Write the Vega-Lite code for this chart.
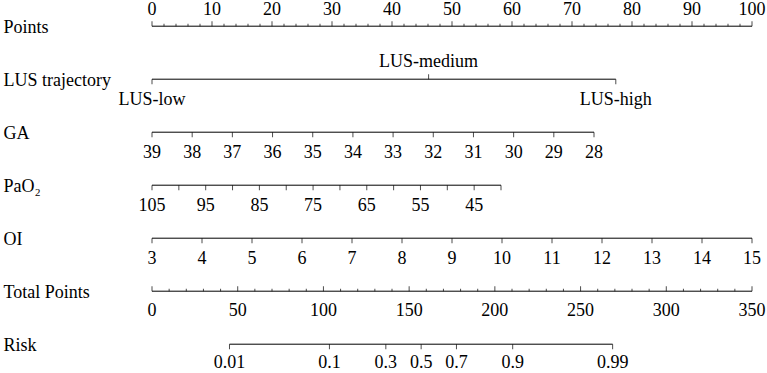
{
  "$schema": "https://vega.github.io/schema/vega-lite/v6.json",
  "background": "white",
  "padding": {"left": 3, "top": 0, "right": 0, "bottom": 0},
  "bounds": "flush",
  "spacing": 0,
  "config": {
    "view": {"stroke": null},
    "text": {"font": "Liberation Serif", "fontSize": 18, "color": "black"},
    "tick": {"color": "black", "thickness": 1},
    "rule": {"color": "black", "strokeWidth": 1},
    "axisY": {"title": null, "domain": false, "ticks": false, "tickSize": 0, "grid": false, "labelAlign": "left", "labelPadding": 149, "labelBaseline": "alphabetic", "labelOffset": 6, "labelFont": "Liberation Serif", "labelFontSize": 18, "labelColor": "black", "labelLimit": 0}
  },
  "datasets": {
    "points": [
      {"row":"Points","v":0,"kind":"major","label":"0"},{"row":"Points","v":2,"kind":"minor"},{"row":"Points","v":4,"kind":"minor"},{"row":"Points","v":6,"kind":"minor"},{"row":"Points","v":8,"kind":"minor"},
      {"row":"Points","v":10,"kind":"major","label":"10"},{"row":"Points","v":12,"kind":"minor"},{"row":"Points","v":14,"kind":"minor"},{"row":"Points","v":16,"kind":"minor"},{"row":"Points","v":18,"kind":"minor"},
      {"row":"Points","v":20,"kind":"major","label":"20"},{"row":"Points","v":22,"kind":"minor"},{"row":"Points","v":24,"kind":"minor"},{"row":"Points","v":26,"kind":"minor"},{"row":"Points","v":28,"kind":"minor"},
      {"row":"Points","v":30,"kind":"major","label":"30"},{"row":"Points","v":32,"kind":"minor"},{"row":"Points","v":34,"kind":"minor"},{"row":"Points","v":36,"kind":"minor"},{"row":"Points","v":38,"kind":"minor"},
      {"row":"Points","v":40,"kind":"major","label":"40"},{"row":"Points","v":42,"kind":"minor"},{"row":"Points","v":44,"kind":"minor"},{"row":"Points","v":46,"kind":"minor"},{"row":"Points","v":48,"kind":"minor"},
      {"row":"Points","v":50,"kind":"major","label":"50"},{"row":"Points","v":52,"kind":"minor"},{"row":"Points","v":54,"kind":"minor"},{"row":"Points","v":56,"kind":"minor"},{"row":"Points","v":58,"kind":"minor"},
      {"row":"Points","v":60,"kind":"major","label":"60"},{"row":"Points","v":62,"kind":"minor"},{"row":"Points","v":64,"kind":"minor"},{"row":"Points","v":66,"kind":"minor"},{"row":"Points","v":68,"kind":"minor"},
      {"row":"Points","v":70,"kind":"major","label":"70"},{"row":"Points","v":72,"kind":"minor"},{"row":"Points","v":74,"kind":"minor"},{"row":"Points","v":76,"kind":"minor"},{"row":"Points","v":78,"kind":"minor"},
      {"row":"Points","v":80,"kind":"major","label":"80"},{"row":"Points","v":82,"kind":"minor"},{"row":"Points","v":84,"kind":"minor"},{"row":"Points","v":86,"kind":"minor"},{"row":"Points","v":88,"kind":"minor"},
      {"row":"Points","v":90,"kind":"major","label":"90"},{"row":"Points","v":92,"kind":"minor"},{"row":"Points","v":94,"kind":"minor"},{"row":"Points","v":96,"kind":"minor"},{"row":"Points","v":98,"kind":"minor"},
      {"row":"Points","v":100,"kind":"major","label":"100"}
    ],
    "lus": [
      {"row":"LUS trajectory","v":0,"side":"below","label":"LUS-low"},
      {"row":"LUS trajectory","v":46.1,"side":"above","label":"LUS-medium"},
      {"row":"LUS trajectory","v":77.3,"side":"below","label":"LUS-high"}
    ],
    "ga": [
      {"row":"GA","v":39,"label":"39"},{"row":"GA","v":38,"label":"38"},{"row":"GA","v":37,"label":"37"},{"row":"GA","v":36,"label":"36"},
      {"row":"GA","v":35,"label":"35"},{"row":"GA","v":34,"label":"34"},{"row":"GA","v":33,"label":"33"},{"row":"GA","v":32,"label":"32"},
      {"row":"GA","v":31,"label":"31"},{"row":"GA","v":30,"label":"30"},{"row":"GA","v":29,"label":"29"},{"row":"GA","v":28,"label":"28"}
    ],
    "pao2": [
      {"row":"PaO₂","v":105,"label":"105"},{"row":"PaO₂","v":100},{"row":"PaO₂","v":95,"label":"95"},{"row":"PaO₂","v":90},
      {"row":"PaO₂","v":85,"label":"85"},{"row":"PaO₂","v":80},{"row":"PaO₂","v":75,"label":"75"},{"row":"PaO₂","v":70},
      {"row":"PaO₂","v":65,"label":"65"},{"row":"PaO₂","v":60},{"row":"PaO₂","v":55,"label":"55"},{"row":"PaO₂","v":50},
      {"row":"PaO₂","v":45,"label":"45"},{"row":"PaO₂","v":40}
    ],
    "oi": [
      {"row":"OI","v":3,"label":"3"},{"row":"OI","v":4,"label":"4"},{"row":"OI","v":5,"label":"5"},{"row":"OI","v":6,"label":"6"},
      {"row":"OI","v":7,"label":"7"},{"row":"OI","v":8,"label":"8"},{"row":"OI","v":9,"label":"9"},{"row":"OI","v":10,"label":"10"},
      {"row":"OI","v":11,"label":"11"},{"row":"OI","v":12,"label":"12"},{"row":"OI","v":13,"label":"13"},{"row":"OI","v":14,"label":"14"},
      {"row":"OI","v":15,"label":"15"}
    ],
    "total": [
      {"row":"Total Points","v":0,"kind":"major","label":"0"},{"row":"Total Points","v":10,"kind":"minor"},{"row":"Total Points","v":20,"kind":"minor"},{"row":"Total Points","v":30,"kind":"minor"},{"row":"Total Points","v":40,"kind":"minor"},
      {"row":"Total Points","v":50,"kind":"major","label":"50"},{"row":"Total Points","v":60,"kind":"minor"},{"row":"Total Points","v":70,"kind":"minor"},{"row":"Total Points","v":80,"kind":"minor"},{"row":"Total Points","v":90,"kind":"minor"},
      {"row":"Total Points","v":100,"kind":"major","label":"100"},{"row":"Total Points","v":110,"kind":"minor"},{"row":"Total Points","v":120,"kind":"minor"},{"row":"Total Points","v":130,"kind":"minor"},{"row":"Total Points","v":140,"kind":"minor"},
      {"row":"Total Points","v":150,"kind":"major","label":"150"},{"row":"Total Points","v":160,"kind":"minor"},{"row":"Total Points","v":170,"kind":"minor"},{"row":"Total Points","v":180,"kind":"minor"},{"row":"Total Points","v":190,"kind":"minor"},
      {"row":"Total Points","v":200,"kind":"major","label":"200"},{"row":"Total Points","v":210,"kind":"minor"},{"row":"Total Points","v":220,"kind":"minor"},{"row":"Total Points","v":230,"kind":"minor"},{"row":"Total Points","v":240,"kind":"minor"},
      {"row":"Total Points","v":250,"kind":"major","label":"250"},{"row":"Total Points","v":260,"kind":"minor"},{"row":"Total Points","v":270,"kind":"minor"},{"row":"Total Points","v":280,"kind":"minor"},{"row":"Total Points","v":290,"kind":"minor"},
      {"row":"Total Points","v":300,"kind":"major","label":"300"},{"row":"Total Points","v":310,"kind":"minor"},{"row":"Total Points","v":320,"kind":"minor"},{"row":"Total Points","v":330,"kind":"minor"},{"row":"Total Points","v":340,"kind":"minor"},
      {"row":"Total Points","v":350,"kind":"major","label":"350"}
    ],
    "risk": [
      {"row":"Risk","v":45.2,"label":"0.01"},{"row":"Risk","v":103.5,"label":"0.1"},{"row":"Risk","v":136.4,"label":"0.3"},
      {"row":"Risk","v":157.0,"label":"0.5"},{"row":"Risk","v":177.6,"label":"0.7"},{"row":"Risk","v":210.4,"label":"0.9"},
      {"row":"Risk","v":268.7,"label":"0.99"}
    ]
  },
  "vconcat": [
    {
      "width": 600, "height": 52.4,
      "data": {"name": "points"},
      "encoding": {
        "y": {"field": "row", "type": "nominal", "scale": {"type": "point"}},
        "x": {"field": "v", "type": "quantitative", "scale": {"domain": [0, 100], "nice": false, "zero": false}, "axis": null}
      },
      "layer": [
        {"mark": {"type": "rule"}, "encoding": {"x": {"aggregate": "min", "field": "v", "type": "quantitative"}, "x2": {"aggregate": "max", "field": "v"}}},
        {"transform": [{"filter": "datum.kind == 'major'"}], "mark": {"type": "tick", "size": 5, "yOffset": -2.5}},
        {"transform": [{"filter": "datum.kind == 'minor'"}], "mark": {"type": "tick", "size": 2.5, "yOffset": -1.25}},
        {"transform": [{"filter": "isValid(datum.label)"}], "mark": {"type": "text", "baseline": "alphabetic", "dy": -11}, "encoding": {"text": {"field": "label"}}}
      ]
    },
    {
      "width": 600, "height": 52.4,
      "data": {"name": "lus"},
      "encoding": {
        "y": {"field": "row", "type": "nominal", "scale": {"type": "point"}},
        "x": {"field": "v", "type": "quantitative", "scale": {"domain": [0, 100], "nice": false, "zero": false}, "axis": null}
      },
      "layer": [
        {"mark": {"type": "rule"}, "encoding": {"x": {"aggregate": "min", "field": "v", "type": "quantitative"}, "x2": {"aggregate": "max", "field": "v"}}},
        {"transform": [{"filter": "datum.side == 'below'"}], "mark": {"type": "tick", "size": 5, "yOffset": 2.5}},
        {"transform": [{"filter": "datum.side == 'above'"}], "mark": {"type": "tick", "size": 5, "yOffset": -2.5}},
        {"transform": [{"filter": "datum.side == 'below'"}], "mark": {"type": "text", "baseline": "alphabetic", "dy": 26}, "encoding": {"text": {"field": "label"}}},
        {"transform": [{"filter": "datum.side == 'above'"}], "mark": {"type": "text", "baseline": "alphabetic", "dy": -12}, "encoding": {"text": {"field": "label"}}}
      ]
    },
    {
      "width": 442, "height": 52.4,
      "data": {"name": "ga"},
      "encoding": {
        "y": {"field": "row", "type": "nominal", "scale": {"type": "point"}},
        "x": {"field": "v", "type": "quantitative", "scale": {"domain": [28, 39], "reverse": true, "nice": false, "zero": false}, "axis": null}
      },
      "layer": [
        {"mark": {"type": "rule"}, "encoding": {"x": {"aggregate": "min", "field": "v", "type": "quantitative"}, "x2": {"aggregate": "max", "field": "v"}}},
        {"mark": {"type": "tick", "size": 5, "yOffset": 2.5}},
        {"mark": {"type": "text", "baseline": "alphabetic", "dy": 26}, "encoding": {"text": {"field": "label"}}}
      ]
    },
    {
      "width": 349, "height": 52.4,
      "data": {"name": "pao2"},
      "encoding": {
        "y": {"field": "row", "type": "nominal", "scale": {"type": "point"}},
        "x": {"field": "v", "type": "quantitative", "scale": {"domain": [40, 105], "reverse": true, "nice": false, "zero": false}, "axis": null}
      },
      "layer": [
        {"mark": {"type": "rule"}, "encoding": {"x": {"aggregate": "min", "field": "v", "type": "quantitative"}, "x2": {"aggregate": "max", "field": "v"}}},
        {"mark": {"type": "tick", "size": 5, "yOffset": 2.5}},
        {"transform": [{"filter": "isValid(datum.label)"}], "mark": {"type": "text", "baseline": "alphabetic", "dy": 26}, "encoding": {"text": {"field": "label"}}}
      ]
    },
    {
      "width": 600, "height": 52.4,
      "data": {"name": "oi"},
      "encoding": {
        "y": {"field": "row", "type": "nominal", "scale": {"type": "point"}},
        "x": {"field": "v", "type": "quantitative", "scale": {"domain": [3, 15], "nice": false, "zero": false}, "axis": null}
      },
      "layer": [
        {"mark": {"type": "rule"}, "encoding": {"x": {"aggregate": "min", "field": "v", "type": "quantitative"}, "x2": {"aggregate": "max", "field": "v"}}},
        {"mark": {"type": "tick", "size": 5, "yOffset": 2.5}},
        {"mark": {"type": "text", "baseline": "alphabetic", "dy": 26}, "encoding": {"text": {"field": "label"}}}
      ]
    },
    {
      "width": 600, "height": 52.4,
      "data": {"name": "total"},
      "encoding": {
        "y": {"field": "row", "type": "nominal", "scale": {"type": "point"}},
        "x": {"field": "v", "type": "quantitative", "scale": {"domain": [0, 350], "nice": false, "zero": false}, "axis": null}
      },
      "layer": [
        {"mark": {"type": "rule"}, "encoding": {"x": {"aggregate": "min", "field": "v", "type": "quantitative"}, "x2": {"aggregate": "max", "field": "v"}}},
        {"transform": [{"filter": "datum.kind == 'major'"}], "mark": {"type": "tick", "size": 5, "yOffset": -2.5}},
        {"transform": [{"filter": "datum.kind == 'minor'"}], "mark": {"type": "tick", "size": 2.5, "yOffset": -1.25}},
        {"transform": [{"filter": "isValid(datum.label)"}], "mark": {"type": "text", "baseline": "alphabetic", "dy": 25}, "encoding": {"text": {"field": "label"}}}
      ]
    },
    {
      "width": 600, "height": 52.4,
      "data": {"name": "risk"},
      "encoding": {
        "y": {"field": "row", "type": "nominal", "scale": {"type": "point"}},
        "x": {"field": "v", "type": "quantitative", "scale": {"domain": [0, 350], "nice": false, "zero": false}, "axis": null}
      },
      "layer": [
        {"mark": {"type": "rule"}, "encoding": {"x": {"aggregate": "min", "field": "v", "type": "quantitative"}, "x2": {"aggregate": "max", "field": "v"}}},
        {"mark": {"type": "tick", "size": 5, "yOffset": 2.5}},
        {"mark": {"type": "text", "baseline": "alphabetic", "dy": 24}, "encoding": {"text": {"field": "label"}}}
      ]
    }
  ]
}
